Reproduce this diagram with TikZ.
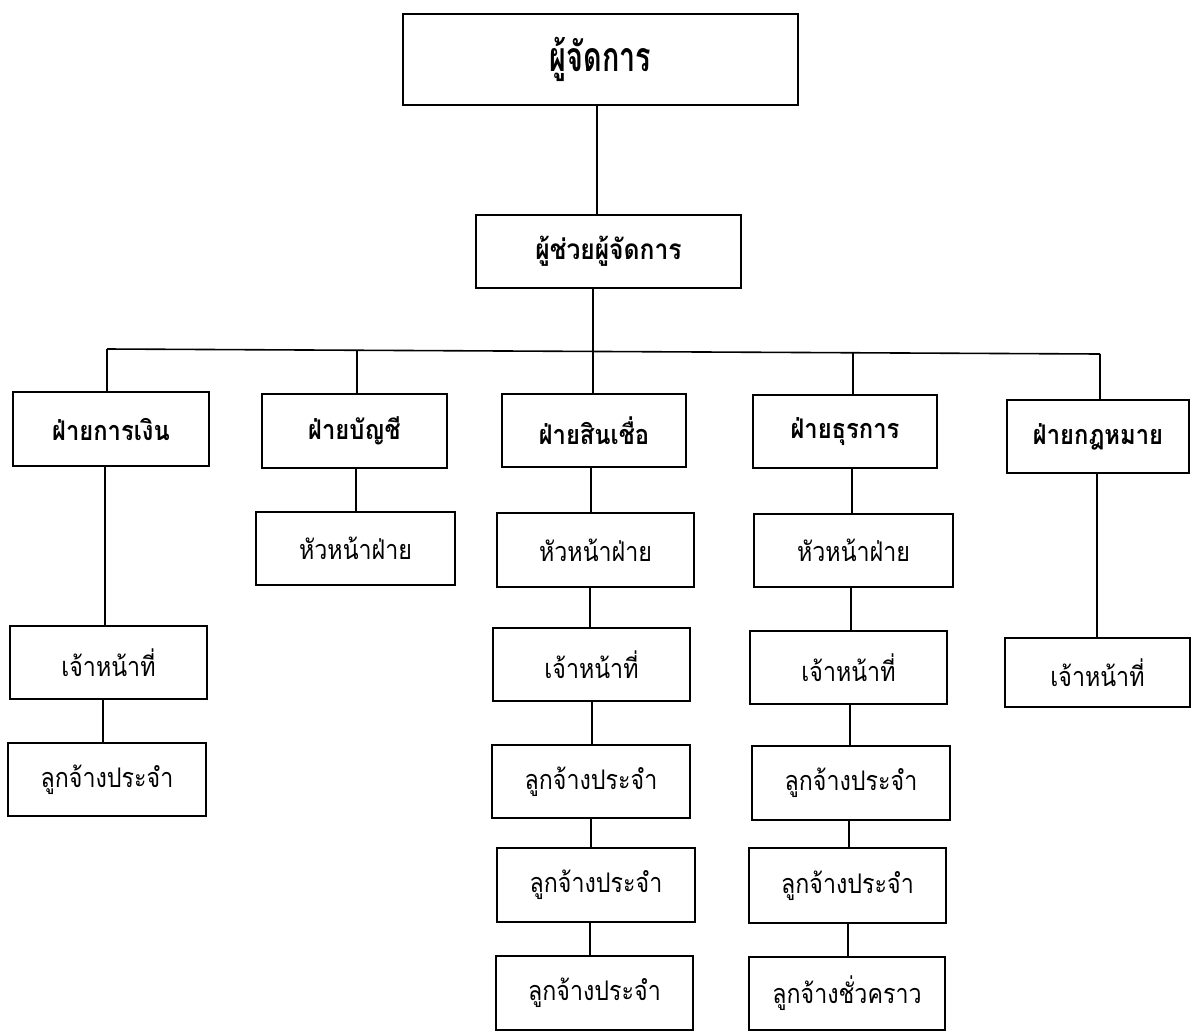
\documentclass[tikz,border=0pt]{standalone}
\usepackage{fontspec}
\usepackage{graphicx}
\newfontfamily\thai[Script=Thai]{Loma}
\def\sx{1}
\newcommand{\bx}[7]{\node[box,#6,minimum width={(#4-#2)*1pt},minimum height={(#5-#3)*1pt}] (#1) at ({(#2+#4)/2},{(#3+#5)/2}) {\scalebox{\sx}[1]{#7}};}
\begin{document}
\begin{tikzpicture}[x=1pt,y=-1pt,
  box/.style={draw,line width=1.6pt,inner sep=0pt},
  hd/.style={font=\thai\bfseries\fontsize{27}{32}\selectfont\def\sx{0.88}},
  big/.style={font=\thai\bfseries\fontsize{41}{48}\selectfont\def\sx{0.70}},
  mid/.style={font=\thai\bfseries\fontsize{28}{34}\selectfont\def\sx{0.88}},
  rg/.style={font=\thai\fontsize{27}{32}\selectfont\def\sx{0.86}},
  ln/.style={line width=1.6pt}]
\fill[white] (0,0) rectangle (1192,1034);
\useasboundingbox (0,0) rectangle (1192,1034);
% top levels
\bx{mgr}{403}{14}{798}{105}{big}{ผู้จัดการ}
\bx{asst}{476}{215}{741}{288}{mid}{ผู้ช่วยผู้จัดการ}
% departments
\bx{fin}{13}{392}{209}{466}{hd}{ฝ่ายการเงิน}
\bx{acc}{262}{394}{447}{468}{hd}{ฝ่ายบัญชี}
\bx{cred}{502}{394}{686}{467}{hd}{ฝ่ายสินเชื่อ}
\bx{adm}{753}{395}{937}{468}{hd}{ฝ่ายธุรการ}
\bx{law}{1007}{400}{1189}{473}{hd}{ฝ่ายกฎหมาย}
% column 1
\bx{finA}{10}{626}{207}{699}{rg}{เจ้าหน้าที่}
\bx{finB}{8}{743}{206}{816}{rg}{ลูกจ้างประจำ}
% column 2
\bx{accA}{256}{512}{455}{585}{rg}{หัวหน้าฝ่าย}
% column 3
\bx{credA}{497}{513}{694}{587}{rg}{หัวหน้าฝ่าย}
\bx{credB}{493}{628}{690}{701}{rg}{เจ้าหน้าที่}
\bx{credC}{492}{745}{690}{818}{rg}{ลูกจ้างประจำ}
\bx{credD}{497}{848}{695}{922}{rg}{ลูกจ้างประจำ}
\bx{credE}{496}{956}{693}{1030}{rg}{ลูกจ้างประจำ}
% column 4
\bx{admA}{754}{514}{953}{587}{rg}{หัวหน้าฝ่าย}
\bx{admB}{750}{631}{947}{704}{rg}{เจ้าหน้าที่}
\bx{admC}{752}{746}{950}{820}{rg}{ลูกจ้างประจำ}
\bx{admD}{749}{848}{946}{923}{rg}{ลูกจ้างประจำ}
\bx{admE}{749}{957}{945}{1030}{rg}{ลูกจ้างชั่วคราว}
% column 5
\bx{lawA}{1005}{638}{1190}{707}{rg}{เจ้าหน้าที่}
% connectors
\coordinate (busL) at (107,349);
\coordinate (busR) at (1100,354);
\draw[ln] (mgr.south -| 597,0) -- (asst.north -| 597,0);
\draw[ln] (asst.south -| 593,0) -- (593,351);
\draw[ln] (busL) -- (busR);
\draw[ln] (busL) -- (fin.north -| busL);
\draw[ln] (357,350) -- (acc.north -| 357,0);
\draw[ln] (593,351) -- (cred.north -| 593,0);
\draw[ln] (853,352) -- (adm.north -| 853,0);
\draw[ln] (busR) -- (law.north -| busR);
\draw[ln] (fin.south -| 105,0) -- (finA.north -| 105,0);
\draw[ln] (finA.south -| 103,0) -- (finB.north -| 103,0);
\draw[ln] (acc.south -| 356,0) -- (accA.north -| 356,0);
\draw[ln] (cred.south -| 591,0) -- (credA.north -| 591,0);
\draw[ln] (credA.south -| 590,0) -- (credB.north -| 590,0);
\draw[ln] (credB.south -| 592,0) -- (credC.north -| 592,0);
\draw[ln] (credC.south -| 591,0) -- (credD.north -| 591,0);
\draw[ln] (credD.south -| 590,0) -- (credE.north -| 590,0);
\draw[ln] (adm.south -| 852,0) -- (admA.north -| 852,0);
\draw[ln] (admA.south -| 851,0) -- (admB.north -| 851,0);
\draw[ln] (admB.south -| 850,0) -- (admC.north -| 850,0);
\draw[ln] (admC.south -| 849,0) -- (admD.north -| 849,0);
\draw[ln] (admD.south -| 848,0) -- (admE.north -| 848,0);
\draw[ln] (law.south -| 1097,0) -- (lawA.north -| 1097,0);
\end{tikzpicture}
\end{document}
